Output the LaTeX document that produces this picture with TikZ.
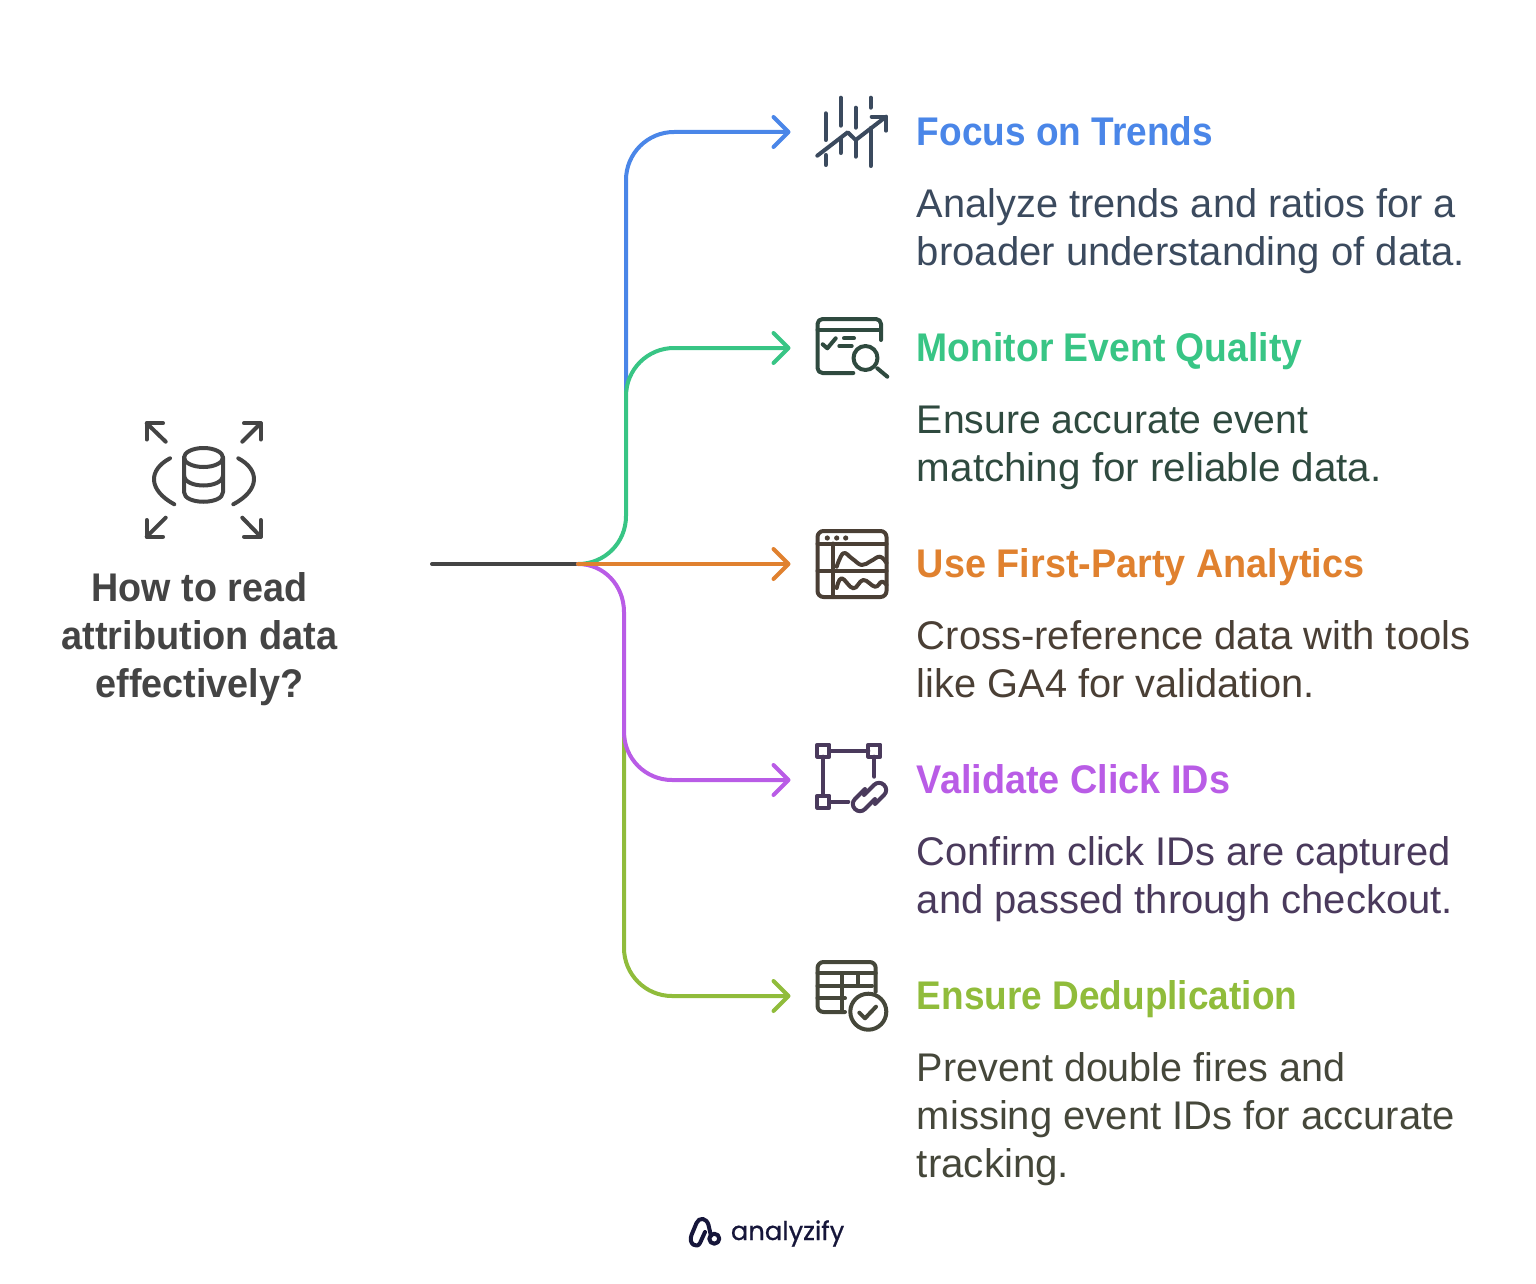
\documentclass[tikz,border=0pt]{standalone}
\usepackage{fontspec}
\usepackage{graphicx}
\usetikzlibrary{arrows.meta}
\setmainfont{Liberation Sans}
\newfontfamily\logofont[FakeBold=0.7]{Poppins}
\newcommand{\sx}[2]{\scalebox{#1}[1]{#2}}
\definecolor{cblue}{HTML}{4A86E8}
\definecolor{cgreen}{HTML}{38C585}
\definecolor{corange}{HTML}{E0812F}
\definecolor{cpurple}{HTML}{B95CE6}
\definecolor{clime}{HTML}{90BC3B}
\definecolor{croot}{HTML}{444444}
\definecolor{tblue}{HTML}{3B4A5E}
\definecolor{tgreen}{HTML}{2F4A3F}
\definecolor{torange}{HTML}{4A3F35}
\definecolor{tpurple}{HTML}{4A3A5C}
\definecolor{tlime}{HTML}{45473A}
\definecolor{navy}{HTML}{16163A}
\tikzset{
  x=0.5pt,y=-0.5pt,
  conn/.style={line width=2pt,line cap=round,line join=round},
  tipped/.style={conn,-{Straight Barb[length=7.5pt,width=15pt,line width=2pt,round]}},
  icon/.style={line width=2pt,line cap=round,line join=round},
  head/.style={anchor=base west,inner sep=0pt,font=\fontsize{20}{24}\selectfont\bfseries},
  body/.style={anchor=base west,inner sep=0pt,font=\fontsize{20}{24}\selectfont},
  ttl/.style={anchor=base,inner sep=0pt,font=\fontsize{20}{24}\selectfont\bfseries,text=croot},
}
\begin{document}
\begin{tikzpicture}
\useasboundingbox (0,0) rectangle (1536,1284);
% connector anchors
\coordinate (rootstart) at (432,564);
\coordinate (hub) at (578,564);
\coordinate (e1) at (790.5,132);
\coordinate (e2) at (790.5,348);
\coordinate (e3) at (790.5,564);
\coordinate (e4) at (790.5,780);
\coordinate (e5) at (790.5,996);
\coordinate (s1) at (626,392);
\coordinate (s5) at (624,735);
% connectors
\draw[conn,croot] (rootstart) -- (hub);
\draw[tipped,cblue] (s1) -- (626,180) .. controls (626,153.5) and (647.5,132) .. (674,132) -- (e1);
\draw[tipped,cgreen] (hub) .. controls (605,564) and (626,542.5) .. (626,516) -- (626,396) .. controls (626,369.5) and (647.5,348) .. (674,348) -- (e2);
\draw[tipped,clime] (s5) -- (624,948) .. controls (624,974.5) and (645.5,996) .. (672,996) -- (e5);
\draw[tipped,cpurple] (hub) .. controls (604,564) and (624,585.5) .. (624,612) -- (624,732) .. controls (624,758.5) and (645.5,780) .. (672,780) -- (e4);
\draw[tipped,corange] (hub) -- (e3);
% root icon
\begin{scope}[icon,croot]
\draw (163,423.3) -- (146.7,423.3) -- (146.7,439.5);
\draw (146.7,423.3) -- (165.7,441.7);
\draw (244,423.3) -- (260.7,423.3) -- (260.7,439.5);
\draw (260.7,423.3) -- (242.3,441.7);
\draw (163,536.7) -- (146.7,536.7) -- (146.7,520);
\draw (146.7,536.7) -- (165.7,517.7);
\draw (244,536.7) -- (260.7,536.7) -- (260.7,520);
\draw (260.7,536.7) -- (242.3,517.7);
\draw (170,458.3) .. controls (148,470) and (148,490) .. (174.3,504.3);
\draw (238.3,458.3) .. controls (260,470) and (260,490) .. (233.3,504.3);
\draw (203.5,457.5) ellipse [x radius=19.5,y radius=9.5];
\draw (184,457.5) -- (184,492) .. controls (184,505) and (223,505) .. (223,492) -- (223,457.5);
\draw (184,475) .. controls (184,489) and (223,489) .. (223,475);
\end{scope}
\node[ttl] (t1) at (199.5,601) {\sx{0.943}{How to read}};
\node[ttl] (t2) at (199.5,649) {\sx{0.948}{attribution data}};
\node[ttl] (t3) at (199.5,697) {\sx{0.945}{effectively?}};
% icon 1
\begin{scope}[icon,tblue]
\draw (825.7,113.3) -- (825.7,140) (825.7,155) -- (825.7,165);
\draw (840.7,97.7) -- (840.7,125.7) (840.7,138) -- (840.7,153);
\draw (855.7,107.7) -- (855.7,127.7) (855.7,141.7) -- (855.7,156.7);
\draw (870.7,97.7) -- (870.7,107.7) (870.7,128) -- (870.7,166);
\draw (817.3,155.7) -- (847.7,132.3) -- (855.7,140) -- (886,116.7);
\draw (871.7,116.7) -- (886,116.7) -- (886,130.7);
\end{scope}
% icon 2
\begin{scope}[icon,tgreen]
\draw[rounded corners=2.5pt] (853.3,373) -- (817.5,373) -- (817.5,319) -- (881,319) -- (881,340);
\draw (817.5,329.5) -- (881,329.5);
\draw (822.7,344.3) -- (827.3,348.3) -- (835.7,338.3);
\draw (844,338.3) -- (854,338.3) (839.3,346) -- (851.7,346);
\draw (865.5,358) circle [radius=12];
\draw (877.3,368.3) -- (887.3,376.7);
\end{scope}
% icon 3
\begin{scope}[icon,torange]
\draw[rounded corners=3pt] (817.5,531) rectangle (886.5,597);
\draw (817.5,543.5) -- (886.5,543.5);
\draw (833.3,543.5) -- (833.3,597);
\draw (817.5,570.7) -- (886.5,570.7);
\fill (827.3,538) circle [radius=2.6] (836.7,538) circle [radius=2.6] (845.7,538) circle [radius=2.6];
\draw plot[smooth,tension=0.7] coordinates {(836.7,566.7) (843.3,553.3) (852,558.5) (861.7,565) (871,561) (880,556.7) (886.5,563)};
\draw plot[smooth,tension=0.7] coordinates {(836.7,588) (841.7,578.3) (853.3,588.3) (863.3,580) (875,586.7) (881.7,581.7) (886.5,585)};
\end{scope}
% icon 4
\begin{scope}[icon,tpurple]
\draw (817.3,744.7) rectangle (829.3,756.7);
\draw (868.3,744.7) rectangle (880.3,756.7);
\draw (817.3,795.7) rectangle (829.3,807.7);
\draw (829.3,750.7) -- (868.3,750.7);
\draw (823.3,756.7) -- (823.3,795.7);
\draw (874.3,756.7) -- (874.3,776.7);
\draw (829.3,801.7) -- (848.3,801.7);
\draw[rounded corners=3.4pt] (864,795) -- (879,780) -- (889,790) -- (875,804);
\draw[rounded corners=3.4pt] (875,799) -- (860,814) -- (850,804) -- (865,789);
\end{scope}
% icon 5
\begin{scope}[icon,tlime]
\draw[rounded corners=3pt] (845,1012) -- (817.5,1012) -- (817.5,962) -- (875.7,962) -- (875.7,991.7);
\draw (817.5,973.3) -- (875.7,973.3);
\draw (817.5,985.7) -- (872,985.7);
\draw (817.5,998.3) -- (845,998.3);
\draw (841.7,973.3) -- (841.7,1012);
\draw (858.3,973.3) -- (858.3,985.7);
\draw[fill=white] (868.3,1011.7) circle [radius=18];
\draw (859.3,1012.7) -- (865,1018.3) -- (876,1006.7);
\end{scope}
% texts
\node[head,text=cblue] (h1) at (916.5,145.5) {\sx{0.925}{Focus on Trends}};
\node[body,text=tblue] (b1a) at (916.5,217) {\sx{0.994}{Analyze trends and ratios for a}};
\node[body,text=tblue] (b1b) at (916.5,265) {\sx{1.002}{broader understanding of data.}};
\node[head,text=cgreen] (h2) at (916.5,361.5) {\sx{0.932}{Monitor Event Quality}};
\node[body,text=tgreen] (b2a) at (916.5,433) {\sx{0.978}{Ensure accurate event}};
\node[body,text=tgreen] (b2b) at (916.5,481) {\sx{1.01}{matching for reliable data.}};
\node[head,text=corange] (h3) at (916.5,577.5) {\sx{0.945}{Use First-Party Analytics}};
\node[body,text=torange] (b3a) at (916.5,649) {Cross-reference data with tools};
\node[body,text=torange] (b3b) at (916.5,697) {\sx{0.995}{like GA4 for validation.}};
\node[head,text=cpurple] (h4) at (916.5,793.5) {\sx{0.946}{Validate Click IDs}};
\node[body,text=tpurple] (b4a) at (916.5,865) {\sx{0.996}{Confirm click IDs are captured}};
\node[body,text=tpurple] (b4b) at (916.5,913) {and passed through checkout.};
\node[head,text=clime] (h5) at (916.5,1009.5) {\sx{0.925}{Ensure Deduplication}};
\node[body,text=tlime] (b5a) at (916.5,1081) {\sx{0.988}{Prevent double fires and}};
\node[body,text=tlime] (b5b) at (916.5,1129) {missing event IDs for accurate};
\node[body,text=tlime] (b5c) at (916.5,1177) {\sx{1.007}{tracking.}};
% logo
\begin{scope}[icon,navy,line width=2pt]
\draw (711,1236) -- (708.5,1225) .. controls (706.5,1217.5) and (699,1217) .. (696.5,1223) -- (691.5,1235) .. controls (688,1244) and (697,1249) .. (700,1243) -- (705,1232);
\draw (714.3,1238.7) circle [radius=5];
\end{scope}
\node[anchor=base west,inner sep=0pt,text=navy,font=\logofont\fontsize{12.9}{16}\selectfont] (logo) at (730.5,1240) {analyzify};
\end{tikzpicture}
\end{document}
